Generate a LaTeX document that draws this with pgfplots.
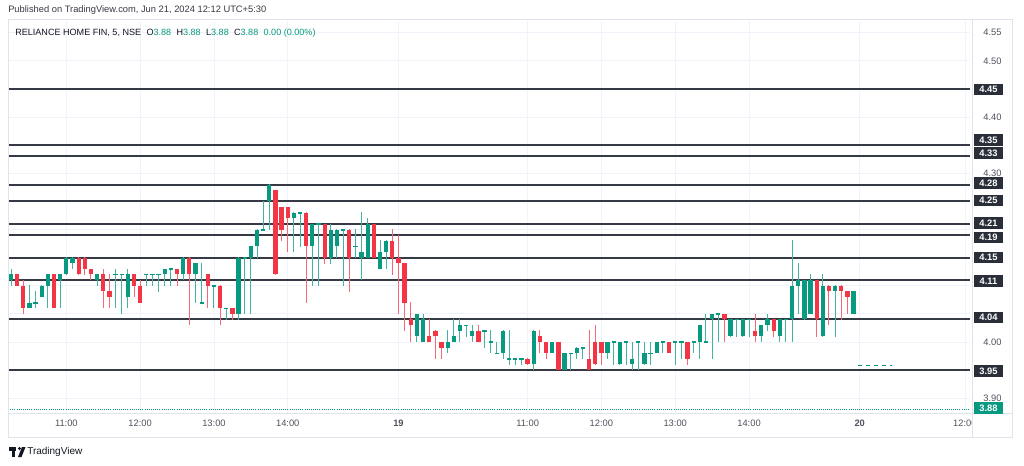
\documentclass[border=0pt]{standalone}
\usepackage{fontspec}
\setmainfont{Liberation Sans}
\usepackage{pgfplots}
\usepackage{pgfplotstable}
\pgfplotsset{compat=1.18}
\definecolor{upc}{HTML}{089981}
\definecolor{dnc}{HTML}{F23645}
\definecolor{lvl}{HTML}{363A45}
\definecolor{boxc}{HTML}{2A2E39}
\definecolor{gridc}{HTML}{F0F3FA}
\definecolor{framec}{HTML}{E0E3EB}
\definecolor{txt}{HTML}{131722}
\definecolor{scalec}{HTML}{50535E}

\pgfplotstableread{
x o h l c
1 4.11 4.13 4.10 4.12
4 4.06 4.10 4.06 4.07
5 4.07 4.09 4.06 4.07
6 4.08 4.10 4.08 4.10
7 4.10 4.12 4.06 4.12
9 4.11 4.12 4.06 4.12
10 4.12 4.15 4.12 4.15
11 4.14 4.15 4.13 4.15
15 4.11 4.12 4.10 4.12
18 4.12 4.13 4.06 4.12
19 4.12 4.12 4.05 4.12
20 4.08 4.13 4.06 4.12
23 4.12 4.12 4.10 4.12
24 4.12 4.12 4.10 4.12
25 4.12 4.12 4.09 4.12
26 4.12 4.13 4.10 4.13
27 4.13 4.13 4.10 4.13
29 4.12 4.15 4.11 4.15
31 4.12 4.14 4.07 4.14
32 4.07 4.14 4.07 4.07
34 4.10 4.10 4.06 4.10
36 4.06 4.06 4.04 4.06
38 4.05 4.15 4.04 4.15
39 4.15 4.15 4.05 4.15
40 4.15 4.17 4.05 4.17
41 4.17 4.20 4.15 4.20
42 4.20 4.25 4.20 4.20
43 4.25 4.28 4.20 4.28
47 4.22 4.23 4.16 4.23
48 4.23 4.23 4.17 4.23
50 4.17 4.21 4.10 4.21
51 4.21 4.21 4.10 4.21
53 4.15 4.21 4.14 4.20
54 4.17 4.20 4.15 4.20
55 4.20 4.20 4.10 4.20
57 4.17 4.20 4.15 4.17
58 4.15 4.23 4.11 4.16
59 4.15 4.22 4.15 4.21
61 4.13 4.18 4.13 4.16
62 4.16 4.18 4.13 4.18
67 4.01 4.05 4.00 4.05
68 4.00 4.05 4.00 4.04
72 3.99 4.02 3.98 4.00
73 4.00 4.04 4.00 4.01
74 4.02 4.04 4.00 4.03
75 4.03 4.03 4.01 4.03
76 4.01 4.03 4.00 4.02
78 4.02 4.02 3.99 4.02
79 4.00 4.02 3.98 4.00
80 3.98 4.00 3.98 3.98
81 3.98 4.02 3.97 4.02
82 3.97 4.02 3.96 3.97
83 3.97 3.97 3.96 3.97
84 3.97 3.97 3.96 3.97
86 3.96 4.02 3.95 4.02
89 3.98 4.00 3.98 4.00
91 3.95 3.98 3.95 3.98
92 3.98 3.98 3.95 3.98
93 3.98 3.99 3.97 3.99
94 3.99 3.99 3.97 3.99
98 3.98 4.00 3.97 4.00
99 4.00 4.00 3.96 4.00
100 3.96 4.00 3.96 4.00
101 4.00 4.00 3.96 4.00
102 3.96 4.00 3.95 3.97
103 4.00 4.00 3.95 4.00
104 3.96 4.00 3.96 3.98
105 3.98 4.00 3.96 3.98
106 3.98 4.00 3.98 4.00
107 4.00 4.00 3.98 4.00
109 4.00 4.00 3.96 4.00
110 4.00 4.00 3.97 4.00
112 4.00 4.00 3.98 4.00
113 4.00 4.03 3.97 4.03
114 4.00 4.05 4.00 4.00
115 4.04 4.05 3.97 4.05
116 4.05 4.05 4.00 4.05
118 4.01 4.04 4.01 4.04
119 4.04 4.04 4.01 4.04
120 4.01 4.04 4.01 4.04
121 4.04 4.04 4.01 4.04
123 4.01 4.03 4.00 4.03
124 4.03 4.05 4.02 4.04
126 4.01 4.04 4.00 4.04
127 4.04 4.04 4.00 4.04
128 4.04 4.18 4.00 4.10
129 4.10 4.14 4.05 4.11
130 4.04 4.11 4.04 4.11
131 4.05 4.12 4.05 4.11
133 4.01 4.12 4.01 4.10
135 4.09 4.10 4.01 4.10
138 4.05 4.09 4.05 4.09
}\upT

\pgfplotstableread{
x o h l c
2 4.12 4.12 4.10 4.10
3 4.10 4.11 4.05 4.06
8 4.12 4.12 4.06 4.06
12 4.15 4.15 4.12 4.12
13 4.15 4.15 4.12 4.13
14 4.13 4.13 4.11 4.12
16 4.12 4.13 4.06 4.09
17 4.09 4.12 4.06 4.08
21 4.12 4.12 4.08 4.10
22 4.10 4.11 4.07 4.07
28 4.13 4.13 4.10 4.12
30 4.15 4.15 4.03 4.12
33 4.12 4.12 4.06 4.10
35 4.10 4.10 4.03 4.06
37 4.06 4.06 4.04 4.05
44 4.27 4.27 4.12 4.12
45 4.24 4.24 4.18 4.20
46 4.24 4.24 4.16 4.22
49 4.23 4.23 4.07 4.17
52 4.21 4.21 4.14 4.15
56 4.20 4.20 4.09 4.15
60 4.21 4.21 4.15 4.15
63 4.18 4.20 4.12 4.15
64 4.15 4.19 4.05 4.14
65 4.14 4.14 4.02 4.07
66 4.04 4.07 4.00 4.03
69 4.01 4.04 4.00 4.00
70 4.02 4.02 3.97 4.01
71 4.00 4.00 3.97 3.99
77 4.02 4.03 4.00 4.00
85 3.97 3.97 3.96 3.96
87 4.01 4.02 3.98 4.00
88 4.00 4.00 3.97 3.98
90 4.00 4.00 3.95 3.95
95 3.97 4.02 3.95 3.95
96 4.00 4.03 3.96 3.96
97 4.00 4.00 3.96 3.98
108 4.00 4.00 3.98 3.98
111 4.00 4.00 3.96 3.97
117 4.05 4.05 4.00 4.04
122 4.02 4.05 4.00 4.01
125 4.04 4.04 4.01 4.02
132 4.11 4.11 4.01 4.04
134 4.10 4.10 4.03 4.09
136 4.10 4.10 4.04 4.09
137 4.09 4.09 4.05 4.08
}\dnT

\begin{document}
\begin{tikzpicture}
\begin{scope}[x=0.75pt,y=0.75pt]
\path[use as bounding box, fill=white] (0,0) rectangle (1024,465);
\end{scope}
\begin{axis}[
  at={(6pt,39pt)}, anchor=south west,
  scale only axis, width=721.5pt, height=294pt,
  xmin=0.512, xmax=156.93, ymin=3.8735, ymax=4.571,
  axis line style={draw=none},
  major tick length=0pt,
  grid=major, grid style={gridc, line width=0.6pt},
  xtick={10,22,34,46,64,85,97,109,121,139,156.1},
  xticklabels={11:00,12:00,13:00,14:00,\textbf{19},11:00,12:00,13:00,14:00,\textbf{20},12:00},
  xticklabel style={font=\fontsize{7}{8}\selectfont, text=scalec, yshift=-2pt},
  ytick={3.90,3.95,4.00,4.05,4.10,4.15,4.20,4.25,4.30,4.35,4.40,4.45,4.50,4.55},
  yticklabels={3.90,,4.00,,,,,,4.30,,4.40,,4.50,4.55},
  yticklabel pos=right,
  yticklabel style={font=\fontsize{7}{8}\selectfont, text=scalec, anchor=west, xshift=6.5pt},
  clip=false,
]
\pgfplotsinvokeforeach{4.45,4.35,4.33,4.28,4.25,4.21,4.19,4.15,4.11,4.04,3.95}{
  \addplot[lvl, line width=1.5pt] coordinates {(0.512,#1) (156.93,#1)};
}
\addplot[upc, densely dotted, line width=0.6pt] coordinates {(0.512,3.88) (156.93,3.88)};
\addplot[upc, dashed, line width=0.6pt] coordinates {(138.7,3.958) (144.3,3.958)};
% wicks
\addplot[draw=none, mark=none, error bars/.cd, y dir=both, y explicit, error mark=none,
  error bar style={draw=upc!75, line width=0.75pt}]
  table[x=x, y expr={(\thisrow{h}+\thisrow{l})/2}, y error expr={(\thisrow{h}-\thisrow{l})/2+0.0005}] {\upT};
\addplot[draw=none, mark=none, error bars/.cd, y dir=both, y explicit, error mark=none,
  error bar style={draw=dnc!75, line width=0.75pt}]
  table[x=x, y expr={(\thisrow{h}+\thisrow{l})/2}, y error expr={(\thisrow{h}-\thisrow{l})/2+0.0005}] {\dnT};
% bodies
\addplot[draw=none, mark=none, error bars/.cd, y dir=both, y explicit, error mark=none,
  error bar style={draw=upc, line width=3.2pt}]
  table[x=x, y expr={(\thisrow{o}+\thisrow{c})/2}, y error expr={max(abs(\thisrow{c}-\thisrow{o})/2,0.0009)}] {\upT};
\addplot[draw=none, mark=none, error bars/.cd, y dir=both, y explicit, error mark=none,
  error bar style={draw=dnc, line width=3.2pt}]
  table[x=x, y expr={(\thisrow{o}+\thisrow{c})/2}, y error expr={max(abs(\thisrow{c}-\thisrow{o})/2,0.0009)}] {\dnT};
\end{axis}
\begin{scope}[x=0.75pt,y=0.75pt]
% hide the cut 12:00 part under price scale corner
\fill[white] (973,28.5) rectangle (1011.5,51.5);
% frame
\draw[framec, line width=0.75pt] (8,445) rectangle (1012,28);
\draw[framec, line width=0.6pt] (8,52) -- (1012,52);
\draw[framec, line width=0.6pt] (972,445) -- (972,28);
% level boxes
\tikzset{pb/.style={fill=boxc, text=white, font=\fontsize{7}{8}\selectfont\bfseries, minimum width=22pt, minimum height=8.6pt, inner sep=0pt}}
\node[pb] at (988.5,375.5) {4.45};
\node[pb] at (988.5,325) {4.35};
\node[pb] at (988.5,312) {4.33};
\node[pb] at (988.5,282) {4.28};
\node[pb] at (988.5,264.5) {4.25};
\node[pb] at (988.5,242) {4.21};
\node[pb] at (988.5,227.5) {4.19};
\node[pb] at (988.5,207.5) {4.15};
\node[pb] at (988.5,184) {4.11};
\node[pb] at (988.5,147.5) {4.04};
\node[pb] at (988.5,94) {3.95};
\node[pb, fill=upc] at (988.5,57) {3.88};
% titles
\node[anchor=west, inner sep=0pt, font=\fontsize{7}{9}\selectfont, text=txt!85] at (8,455) {Published on TradingView.com, Jun 21, 2024 12:12 UTC+5:30};
\node[anchor=west, inner sep=0pt, font=\fontsize{6.8}{9}\selectfont, text=txt] at (15,432) {RELIANCE HOME FIN, 5, NSE\hspace{4pt}O\textcolor{upc}{3.88}\hspace{4pt}H\textcolor{upc}{3.88}\hspace{4pt}L\textcolor{upc}{3.88}\hspace{4pt}C\textcolor{upc}{3.88}\hspace{4pt}\textcolor{upc}{0.00 (0.00\%)}};
% logo
\fill[txt] (9,18) rectangle (16,14.5);
\fill[txt] (12,14.5) rectangle (15,8);
\fill[txt] (19.5,16.5) circle (1.6);
\fill[txt] (22,18) -- (25.5,18) -- (21.5,8) -- (18,8) -- cycle;
\node[anchor=west, inner sep=0pt, font=\fontsize{7.5}{9}\selectfont, text=txt] at (27,13) {TradingView};
\end{scope}
\end{tikzpicture}
\end{document}
